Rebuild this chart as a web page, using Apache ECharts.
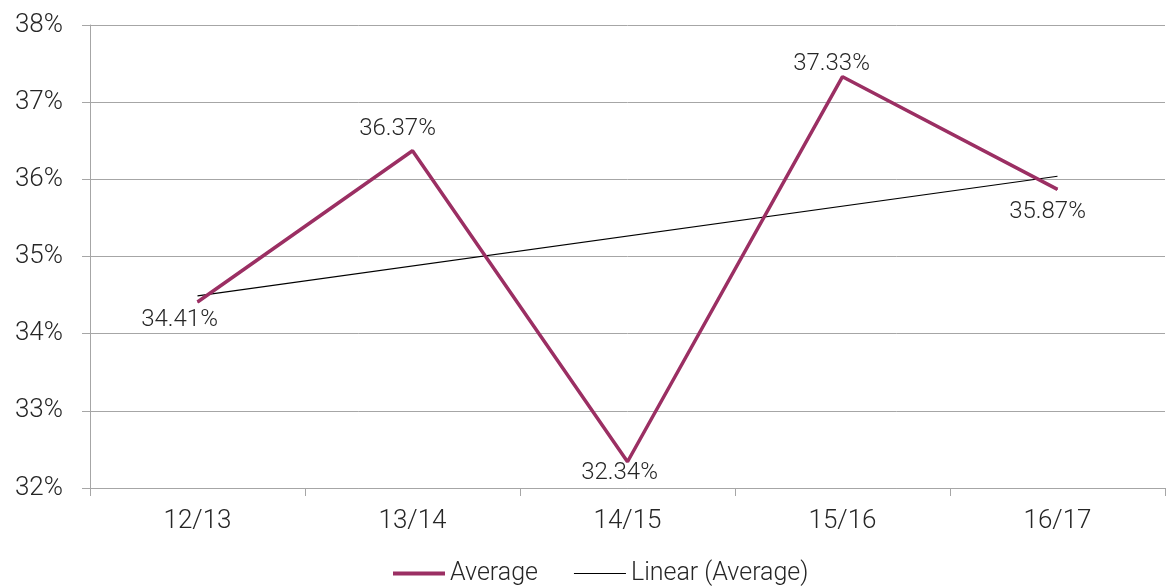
<!DOCTYPE html>
<html>
<head>
<meta charset="utf-8">
<script src="https://cdn.jsdelivr.net/npm/echarts@6/dist/echarts.min.js"></script>
<style>
html,body{margin:0;padding:0;background:#fff;}
#chart{width:1169px;height:587px;}
</style>
</head>
<body>
<div id="chart"></div>
<script>
const categories = ['12/13', '13/14', '14/15', '15/16', '16/17'];
const averageValues = [34.41, 36.37, 32.34, 37.33, 35.87];
// Linear trend line endpoints (category index, value)
const trendPoints = [[0, 34.49], [4, 36.04]];
const yTicks = [32, 33, 34, 35, 36, 37, 38];

// label offsets (layout only): [dx, dy] from the point
const labelOffsets = [[-18, 18], [-15, -22], [-8, 11], [-11, -13], [-10, 23]];
const FONT = 'Roboto';
const TXT = '#262626';
const PURPLE = '#9b2f63';

const chart = echarts.init(document.getElementById('chart'));
chart.setOption({
  animation: false,
  backgroundColor: '#fff',
  textStyle: { fontFamily: FONT, fontWeight: 300 },
  grid: { left: 90, right: 4, top: 25, bottom: 99, containLabel: false },
  legend: {
    top: 561,
    left: 393,
    padding: 0,
    itemWidth: 52,
    itemHeight: 12,
    itemGap: 36,
    textStyle: { fontSize: 25, color: TXT, fontFamily: FONT, fontWeight: 300 },
    data: [
      { name: 'Average', icon: 'path://M0,0L0,0ZM0,4H52V8H0ZM52,12L52,12Z', itemStyle: { color: PURPLE } },
      { name: 'Linear (Average)', icon: 'path://M0,0L0,0ZM0,5.5H52V6.5H0ZM52,12L52,12Z', itemStyle: { color: '#000' } }
    ]
  },
  xAxis: {
    type: 'category',
    data: categories,
    boundaryGap: true,
    axisLine: { show: true, lineStyle: { color: '#a6a6a6', width: 1 } },
    axisTick: { show: true, length: 8, lineStyle: { color: '#a6a6a6' } },
    axisLabel: { fontSize: 26, color: TXT, margin: 20, fontFamily: FONT, fontWeight: 300 },
    splitLine: { show: false }
  },
  yAxis: {
    type: 'value',
    min: yTicks[0],
    max: yTicks[yTicks.length - 1],
    interval: 1,
    axisLine: { show: true, lineStyle: { color: '#a6a6a6', width: 1 } },
    axisTick: { show: true, length: 8, lineStyle: { color: '#a6a6a6' } },
    axisLabel: { fontSize: 26, color: TXT, margin: 27, formatter: '{value}%', fontFamily: FONT, fontWeight: 300 },
    splitLine: { show: true, lineStyle: { color: '#a6a6a6', width: 1 } }
  },
  series: [
    {
      name: 'Average',
      type: 'line',
      data: averageValues.map((v, i) => ({
        value: v,
        symbol: 'circle',
        symbolSize: 1,
        label: { offset: labelOffsets[i] }
      })),
      symbol: 'none',
      showSymbol: true,
      lineStyle: { color: PURPLE, width: 3.5 },
      itemStyle: { color: PURPLE },
      label: {
        show: true,
        position: 'inside',
        fontSize: 24,
        color: TXT,
        fontFamily: FONT,
        fontWeight: 300,
        formatter: p => p.value.toFixed(2) + '%'
      },
      z: 3
    },
    {
      name: 'Linear (Average)',
      type: 'line',
      data: trendPoints,
      symbol: 'none',
      lineStyle: { color: '#000', width: 1.2 },
      itemStyle: { color: '#000' },
      z: 2
    }
  ]
});
</script>
</body>
</html>
